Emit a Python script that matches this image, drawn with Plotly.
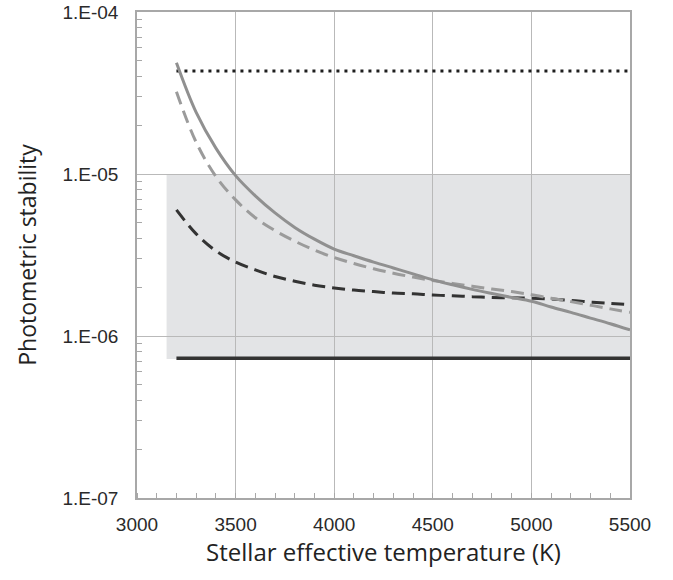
import plotly.graph_objects as go

# ---- data ----
temps = [3200, 3300, 3400, 3500, 3600, 3700, 3800, 3900, 4000, 4100, 4200,
         4300, 4400, 4500, 4600, 4700, 4800, 4900, 5000, 5100, 5200, 5300, 5400, 5500]

solid_gray = [4.86e-5, 2.40e-5, 1.445e-5, 9.77e-6, 7.33e-6, 5.75e-6, 4.68e-6, 3.96e-6,
              3.44e-6, 3.13e-6, 2.86e-6, 2.63e-6, 2.42e-6, 2.22e-6, 2.07e-6, 1.94e-6,
              1.83e-6, 1.73e-6, 1.64e-6, 1.51e-6, 1.40e-6, 1.29e-6, 1.19e-6, 1.09e-6]

dashed_gray = [3.22e-5, 1.57e-5, 9.66e-6, 6.92e-6, 5.37e-6, 4.47e-6, 3.85e-6, 3.39e-6,
               3.05e-6, 2.80e-6, 2.60e-6, 2.44e-6, 2.31e-6, 2.20e-6, 2.11e-6, 2.03e-6,
               1.95e-6, 1.88e-6, 1.80e-6, 1.71e-6, 1.63e-6, 1.55e-6, 1.47e-6, 1.40e-6]

dashed_dark = [6.0e-6, 4.27e-6, 3.35e-6, 2.86e-6, 2.56e-6, 2.33e-6, 2.18e-6, 2.06e-6,
               1.98e-6, 1.92e-6, 1.88e-6, 1.84e-6, 1.82e-6, 1.79e-6, 1.77e-6, 1.75e-6,
               1.73e-6, 1.72e-6, 1.71e-6, 1.69e-6, 1.66e-6, 1.62e-6, 1.59e-6, 1.56e-6]

dotted_x = [3200, 5500]
dotted_y = [4.32e-5, 4.32e-5]

floor_x = [3200, 5500]
floor_y = [7.3e-7, 7.3e-7]

band_x = [3150, 5500]
band_y = [7.2e-7, 1.0e-5]

x_ticks = [3000, 3500, 4000, 4500, 5000, 5500]
y_ticks = [1e-7, 1e-6, 1e-5, 1e-4]
y_tick_labels = ["1.E-07", "1.E-06", "1.E-05", "1.E-04"]

x_minor = list(range(3000, 5501, 100))
y_minor = [m * 10 ** e for e in (-7, -6, -5) for m in range(2, 10)]

fig = go.Figure()

fig.add_shape(type="rect", xref="x", yref="y",
              x0=band_x[0], x1=band_x[1], y0=band_y[0], y1=band_y[1],
              fillcolor="#e3e4e6", line_width=0, layer="below")

fig.add_trace(go.Scatter(x=dotted_x, y=dotted_y, mode="lines",
                         line=dict(color="#1e1e1e", width=3, dash="3px,5px")))
fig.add_trace(go.Scatter(x=floor_x, y=floor_y, mode="lines",
                         line=dict(color="#333333", width=3.5)))
fig.add_trace(go.Scatter(x=temps, y=dashed_dark, mode="lines",
                         line=dict(color="#333333", width=3, dash="13px,7px", shape="spline")))
fig.add_trace(go.Scatter(x=temps, y=dashed_gray, mode="lines",
                         line=dict(color="#9b9b9b", width=3, dash="13px,7px", shape="spline")))
fig.add_trace(go.Scatter(x=temps, y=solid_gray, mode="lines",
                         line=dict(color="#909090", width=3, shape="spline")))

tick_font = dict(family="Liberation Sans, Arial, sans-serif", size=19, color="#2a2a2a")
x_title_font = dict(family="Open Sans, sans-serif", size=24, color="#222222")
y_title_font = dict(family="Open Sans, sans-serif", size=23, color="#222222")

fig.update_xaxes(
    range=[3000, 5500], tickvals=x_ticks, ticks="", tickfont=tick_font,
    showgrid=True, gridcolor="#b9b9b9", gridwidth=1,
    showline=True, linecolor="#a8a8a8", linewidth=1.5, mirror=True,
    ticklabelstandoff=8, zeroline=False, automargin=False, ticklabeloverflow="allow",
    minor=dict(tickvals=x_minor, ticks="inside", ticklen=5, tickcolor="#a8a8a8", showgrid=False),
    title=dict(text="Stellar effective temperature (K)", font=x_title_font, standoff=6),
)
fig.update_yaxes(
    type="log", range=[-7, -4], tickvals=y_ticks, ticktext=y_tick_labels, ticks="",
    tickfont=tick_font, showgrid=True, gridcolor="#b9b9b9", gridwidth=1,
    showline=True, linecolor="#a8a8a8", linewidth=1.5, mirror=True,
    ticklabelstandoff=13, zeroline=False, automargin=False, ticklabeloverflow="allow",
    minor=dict(tickvals=y_minor, ticks="inside", ticklen=5, tickcolor="#a8a8a8", showgrid=False),
    title=dict(text="Photometric stability", font=y_title_font, standoff=19),
)

fig.update_layout(
    width=673, height=580, showlegend=False,
    margin=dict(l=137, r=43, t=12, b=82),
    paper_bgcolor="white", plot_bgcolor="white",
)

fig.write_html("out.html", config={"displayModeBar": False},
               post_script="document.body.style.margin='0';")
